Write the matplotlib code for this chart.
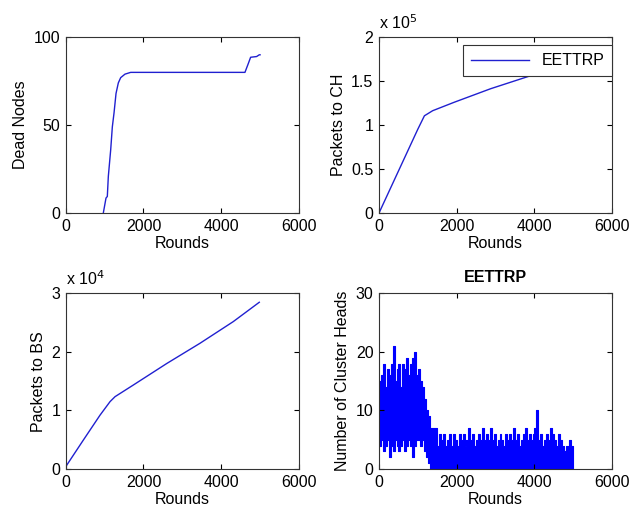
import numpy as np
import matplotlib.pyplot as plt
from matplotlib.ticker import FuncFormatter

plt.rcParams['font.family'] = ['Liberation Sans', 'DejaVu Sans']
plt.rcParams['font.size'] = 11.5
plt.rcParams['path.simplify'] = False  # keep every spike of the cluster-head trace

# Dead nodes vs rounds (first node dies around round 967)
dead_rounds = [967, 1036, 1070, 1096, 1157, 1199, 1243, 1294, 1353, 1414, 1525,
               1671, 4611, 4697, 4757, 4911, 4980, 5000]
dead_nodes = [0, 8.5, 9.4, 20.8, 36, 49, 57, 68, 74, 77, 79,
              80, 80, 85, 88.6, 89, 90, 90]

# Packets to cluster heads
ch_rounds = [0, 997, 1168, 1381, 1935, 2872, 3810, 5000]
ch_packets = [0, 0.952e5, 1.106e5, 1.164e5, 1.26e5, 1.414e5, 1.549e5, 1.72e5]

# Packets to base station
bs_rounds = [0, 454, 883, 1140, 1269, 1740, 2597, 3454, 4311, 4980]
bs_packets = [0.04e4, 0.495e4, 0.92e4, 1.15e4, 1.235e4, 1.434e4, 1.80e4, 2.146e4, 2.516e4, 2.846e4]

# Number of cluster heads: peaks every 50 rounds (0..4950), troughs in between (25..4975)
ch_peaks = [15, 16, 18, 14, 17, 16, 18, 21, 15, 17,
            18, 14, 18, 17, 19, 16, 18, 19, 20, 16,
            17, 15, 14, 12, 10, 9, 7, 7, 7, 7,
            4, 6, 5, 6, 4, 5, 6, 4, 6, 5,
            4, 6, 5, 6, 4, 5, 7, 5, 6, 4,
            5, 6, 5, 7, 5, 6, 5, 7, 5, 6,
            4, 5, 6, 5, 4, 6, 5, 6, 5, 7,
            5, 6, 4, 5, 6, 7, 5, 6, 5, 6,
            7, 10, 5, 6, 4, 5, 6, 5, 7, 6,
            5, 4, 6, 5, 4, 3, 4, 3, 5, 4]
ch_troughs = [4, 5, 3, 4, 5, 2, 4, 3, 5, 4,
              3, 4, 5, 3, 4, 5, 4, 2, 4, 5,
              5, 4, 5, 3, 2, 1, 0, 0, 0, 0,
              0, 0, 0, 0, 0, 0, 0, 0, 0, 0,
              0, 0, 0, 0, 0, 0, 0, 0, 0, 0,
              0, 0, 0, 0, 0, 0, 0, 0, 0, 0,
              0, 0, 0, 0, 0, 0, 0, 0, 0, 0,
              0, 0, 0, 0, 0, 0, 0, 0, 0, 0,
              0, 0, 0, 0, 0, 0, 0, 0, 0, 0,
              0, 0, 0, 0, 0, 0, 0, 0, 0, 0]

x_ticks = [0, 2000, 4000, 6000]

fig = plt.figure(figsize=(6.32, 5.14), dpi=100)
left = [0.104, 0.5997]
bottom = [0.5856, 0.0875]
w, h = 0.369, 0.342
ax1 = fig.add_axes([left[0], bottom[0], w, h])
ax2 = fig.add_axes([left[1], bottom[0], w, h])
ax3 = fig.add_axes([left[0], bottom[1], w, h])
ax4 = fig.add_axes([left[1], bottom[1], w, h])


def matlab_style(ax):
    ax.tick_params(direction='in', top=True, right=True, length=3.5, width=0.8,
                   pad=4, labelsize=11.5)
    for s in ax.spines.values():
        s.set_color('#333333')
        s.set_linewidth(0.8)
    ax.set_xlim(0, 6000)
    ax.set_xticks(x_ticks)
    ax.set_xlabel('Rounds', labelpad=2)


ax1.plot(dead_rounds, dead_nodes, color='#2020d0', lw=1)
matlab_style(ax1)
ax1.set_ylim(0, 100)
ax1.set_yticks([0, 50, 100])
ax1.set_ylabel('Dead Nodes')

ax2.plot(ch_rounds, ch_packets, color='#2020d0', lw=1, label='EETTRP')
matlab_style(ax2)
ax2.set_ylim(0, 2e5)
ax2.set_yticks([0, 0.5e5, 1e5, 1.5e5, 2e5])
ax2.yaxis.set_major_formatter(FuncFormatter(lambda v, p: '%g' % (v / 1e5)))
ax2.set_ylabel('Packets to CH')
ax2.text(0.0, 1.03, r'x 10$^{5}$', transform=ax2.transAxes, ha='left', va='bottom')
leg = ax2.legend(loc='upper right', bbox_to_anchor=(1.0, 0.955), borderaxespad=0,
                 fancybox=False, framealpha=1, edgecolor='#333333', handlelength=3.6,
                 borderpad=0.5)
leg.get_frame().set_linewidth(0.8)

ax3.plot(bs_rounds, bs_packets, color='#2020d0', lw=1)
matlab_style(ax3)
ax3.set_ylim(0, 3e4)
ax3.set_yticks([0, 1e4, 2e4, 3e4])
ax3.yaxis.set_major_formatter(FuncFormatter(lambda v, p: '%g' % (v / 1e4)))
ax3.set_ylabel('Packets to BS')
ax3.text(0.0, 1.03, r'x 10$^{4}$', transform=ax3.transAxes, ha='left', va='bottom')

# the trace oscillates every round, so it reads as a solid band between troughs and peaks
block_x = [i * 50 for i in range(len(ch_peaks))] + [5000]
ax4.fill_between(block_x, ch_troughs + [0], ch_peaks + [0], step='post',
                 color='#0000ff', linewidth=0.8, edgecolor='#0000ff')
matlab_style(ax4)
ax4.set_ylim(0, 30)
ax4.set_yticks([0, 10, 20, 30])
ax4.set_ylabel('Number of Cluster Heads')
ax4.set_title('EETTRP', fontweight='bold', fontsize=11.5, pad=8)

fig.savefig('out.png', dpi=100)
